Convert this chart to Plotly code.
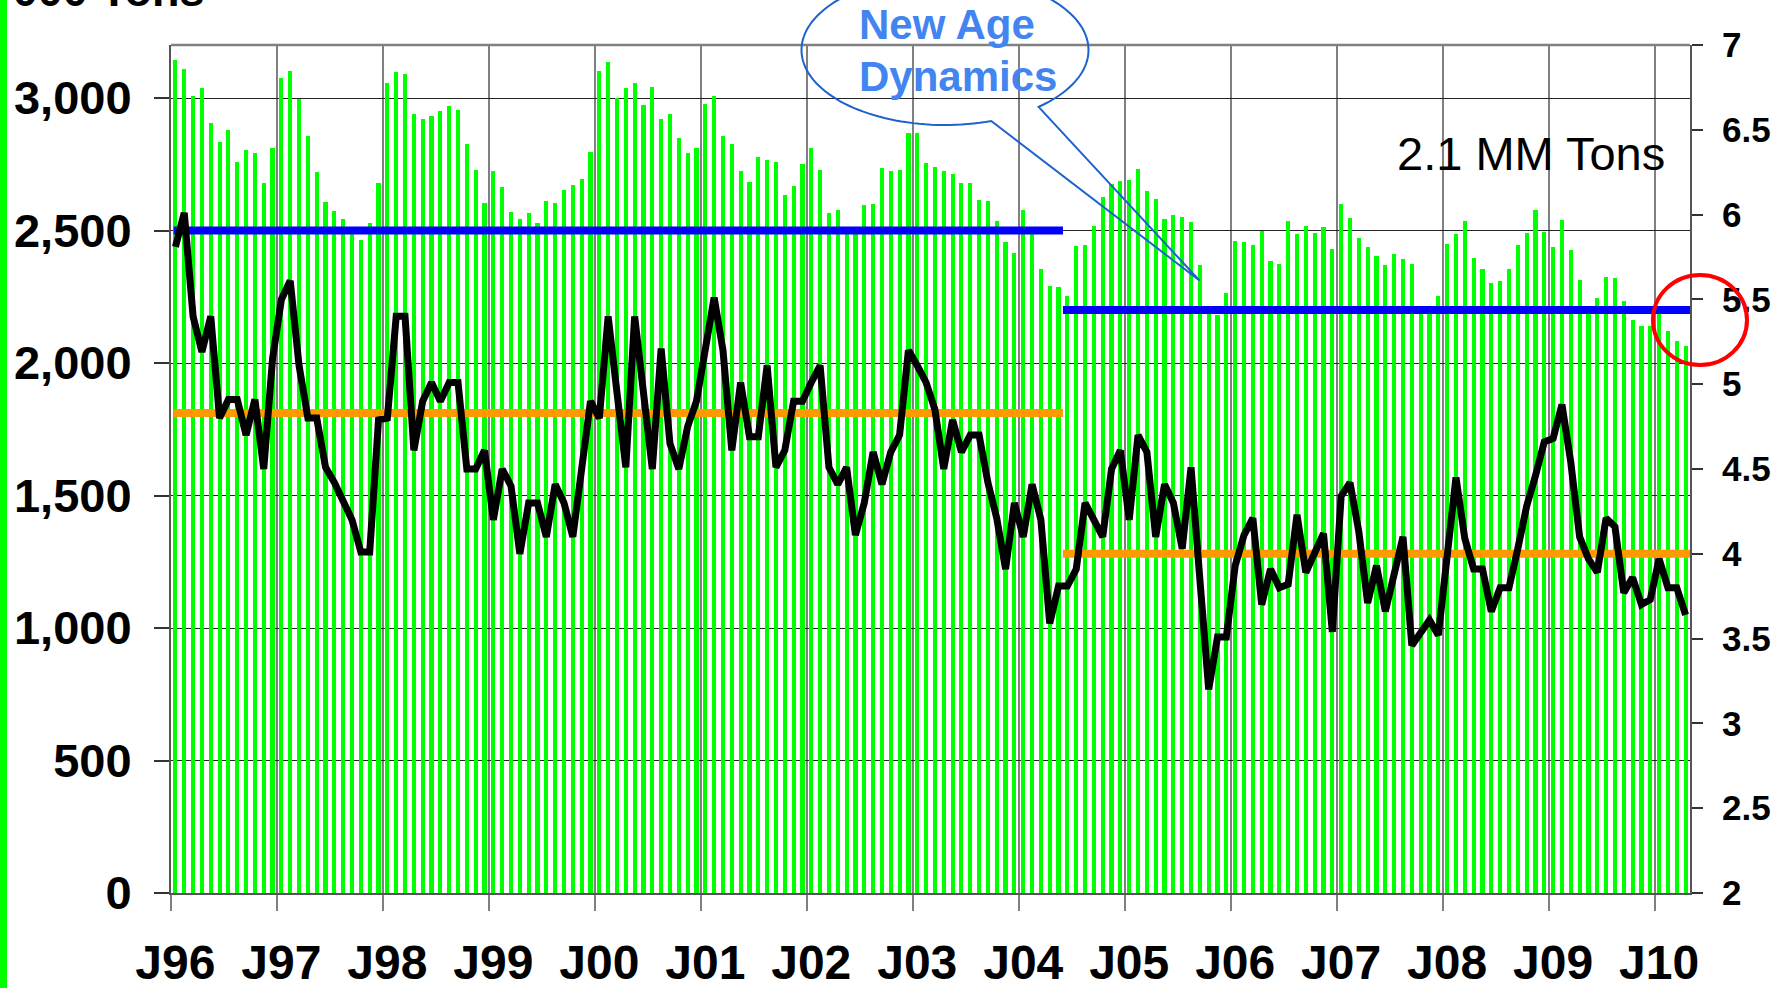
import plotly.graph_objects as go
import numpy as np

# ---------------- data ----------------
years = ["J96", "J97", "J98", "J99", "J00", "J01", "J02", "J03", "J04", "J05",
         "J06", "J07", "J08", "J09", "J10"]

inventory_kt = [
    3144, 3110, 3008, 3038, 2906, 2834, 2879, 2758, 2802, 2792, 2679, 2811,   # 1996
    3076, 3102, 2997, 2856, 2720, 2608, 2573, 2543, 2490, 2465, 2528, 2679,   # 1997
    3057, 3098, 3091, 2940, 2921, 2932, 2951, 2970, 2955, 2826, 2728, 2605,   # 1998
    2724, 2664, 2569, 2543, 2566, 2528, 2611, 2603, 2652, 2671, 2694, 2796,   # 1999
    3102, 3136, 3000, 3038, 3057, 2974, 3042, 2921, 2940, 2849, 2792, 2811,   # 2000
    2977, 3008, 2856, 2826, 2724, 2683, 2777, 2766, 2758, 2634, 2668, 2751,   # 2001
    2811, 2728, 2566, 2577, 2490, 2495, 2596, 2600, 2736, 2724, 2728, 2868,   # 2002
    2868, 2754, 2739, 2724, 2713, 2679, 2679, 2615, 2611, 2535, 2456, 2414,   # 2003
    2577, 2490, 2354, 2290, 2286, 2252, 2441, 2445, 2516, 2626, 2675, 2686,   # 2004
    2690, 2732, 2649, 2618, 2543, 2558, 2550, 2531, 2369, 2190, 2180, 2263,   # 2005
    2460, 2456, 2445, 2500, 2384, 2373, 2535, 2486, 2516, 2490, 2513, 2429,   # 2006
    2600, 2547, 2471, 2437, 2403, 2369, 2410, 2392, 2373, 2200, 2210, 2252,   # 2007
    2449, 2486, 2535, 2396, 2354, 2301, 2309, 2354, 2445, 2490, 2577, 2494,   # 2008
    2437, 2539, 2426, 2312, 2214, 2244, 2324, 2320, 2233, 2161, 2139, 2139,   # 2009
    2217, 2120, 2082, 2063,                                                   # 2010
]

supply_ratio = [
    5.81, 6.01, 5.40, 5.19, 5.40, 4.80, 4.91, 4.91, 4.70, 4.91, 4.50, 5.15,   # 1996
    5.50, 5.61, 5.11, 4.80, 4.80, 4.51, 4.42, 4.30, 4.20, 4.01, 4.01, 4.79,   # 1997
    4.80, 5.40, 5.40, 4.61, 4.90, 5.01, 4.90, 5.01, 5.01, 4.50, 4.50, 4.61,   # 1998
    4.20, 4.50, 4.40, 4.00, 4.30, 4.30, 4.10, 4.41, 4.30, 4.10, 4.51, 4.90,   # 1999
    4.80, 5.40, 4.95, 4.51, 5.40, 4.97, 4.50, 5.21, 4.65, 4.50, 4.75, 4.90,   # 2000
    5.20, 5.51, 5.20, 4.61, 5.01, 4.69, 4.69, 5.11, 4.51, 4.61, 4.90, 4.90,   # 2001
    5.01, 5.11, 4.51, 4.41, 4.51, 4.11, 4.30, 4.60, 4.41, 4.60, 4.70, 5.20,   # 2002
    5.11, 5.01, 4.85, 4.50, 4.79, 4.60, 4.70, 4.70, 4.42, 4.21, 3.91, 4.30,   # 2003
    4.10, 4.41, 4.20, 3.59, 3.81, 3.81, 3.91, 4.30, 4.20, 4.10, 4.50, 4.61,   # 2004
    4.20, 4.70, 4.60, 4.10, 4.41, 4.30, 4.03, 4.51, 3.85, 3.20, 3.51, 3.51,   # 2005
    3.93, 4.11, 4.21, 3.70, 3.91, 3.80, 3.82, 4.23, 3.89, 4.01, 4.12, 3.54,   # 2006
    4.34, 4.42, 4.13, 3.71, 3.93, 3.66, 3.87, 4.10, 3.46, 3.54, 3.61, 3.52,   # 2007
    4.03, 4.45, 4.09, 3.91, 3.91, 3.66, 3.80, 3.80, 4.03, 4.28, 4.46, 4.66,   # 2008
    4.68, 4.88, 4.54, 4.10, 3.97, 3.89, 4.21, 4.16, 3.77, 3.86, 3.70, 3.73,   # 2009
    3.97, 3.80, 3.80, 3.64,                                                   # 2010
]

# average levels for the two periods (months from Jan-96)
period_bounds = [0.3, 101, 172]
inventory_avg = [2500, 2200]
ratio_avg = [4.83, 4.00]

left_ticks = [0, 500, 1000, 1500, 2000, 2500, 3000]
right_ticks = [2, 2.5, 3, 3.5, 4, 4.5, 5, 5.5, 6, 6.5, 7]
right_ticktext = ["2", "2.5", "3", "3.5", "4", "4.5", "5", "5.5", "6", "6.5", "7"]

# ---------------- layout geometry ----------------
W, H = 1787, 988
L, R, T, B = 171, 97, 45, 95
PW, PH = W - L - R, H - T - B


def px(xp):
    return (xp - L) / PW


def py(yp):
    return 1 - (yp - T) / PH


FONT = "Liberation Sans, Arial, sans-serif"
n = len(inventory_kt)
xs = [i + 0.5 for i in range(n)]

fig = go.Figure()

fig.add_trace(go.Bar(
    x=xs, y=inventory_kt, width=0.47,
    marker=dict(color="#00FF00", line=dict(width=0)),
    yaxis="y", showlegend=False, hoverinfo="skip",
))

# blue average inventory lines
for k in range(2):
    fig.add_trace(go.Scatter(
        x=[period_bounds[k], period_bounds[k + 1]],
        y=[inventory_avg[k], inventory_avg[k]],
        mode="lines", line=dict(color="#0000FF", width=8),
        yaxis="y", showlegend=False, hoverinfo="skip",
    ))

# orange average ratio lines
for k in range(2):
    fig.add_trace(go.Scatter(
        x=[period_bounds[k], period_bounds[k + 1]],
        y=[ratio_avg[k], ratio_avg[k]],
        mode="lines", line=dict(color="#FF9900", width=8),
        yaxis="y2", showlegend=False, hoverinfo="skip",
    ))

fig.add_trace(go.Scatter(
    x=xs, y=supply_ratio, mode="lines",
    line=dict(color="#000000", width=7),
    yaxis="y2", showlegend=False, hoverinfo="skip",
))

# ---------------- shapes ----------------
shapes = []
# green strip at the very left edge
shapes.append(dict(type="rect", xref="paper", yref="paper",
                   x0=px(0), x1=px(7), y0=-0.3, y1=1.3,
                   fillcolor="#00FF00", line=dict(width=0), layer="above"))
# top border of the plot
shapes.append(dict(type="line", xref="paper", yref="paper",
                   x0=0, x1=1, y0=1, y1=1,
                   line=dict(color="#808080", width=2.5), layer="above"))
# red circle
shapes.append(dict(type="circle", xref="paper", yref="paper",
                   x0=px(1653), x1=px(1747), y0=py(365), y1=py(275),
                   line=dict(color="#FF0000", width=4), layer="above"))

# callout ellipse with tail
cx, cy, rx, ry = 945, 50, 143.5, 75
t2 = np.degrees(np.arctan2((107.3 - cy) / ry, (1039.3 - cx) / rx))
t1 = np.degrees(np.arctan2((121.7 - cy) / ry, (991.7 - cx) / rx))
ts = np.linspace(t2, t1 - 360, 140)
pts = [(cx + rx * np.cos(np.radians(t)), cy + ry * np.sin(np.radians(t))) for t in ts]
pts.append((1199.5, 280.5))
path = "M " + " L ".join(f"{px(a):.5f},{py(b):.5f}" for a, b in pts) + " Z"
shapes.append(dict(type="path", xref="paper", yref="paper", path=path,
                   line=dict(color="#1E62CC", width=2), fillcolor="rgba(0,0,0,0)",
                   layer="above"))

# ---------------- annotations ----------------
annotations = [
    dict(text="New Age", xref="paper", yref="paper", x=px(857), y=py(39.3 - 0.3465 * 42),
         xanchor="left", yanchor="middle", showarrow=False,
         font=dict(family=FONT, size=42, color="#4285F0", weight="bold")),
    dict(text="Dynamics", xref="paper", yref="paper", x=px(857), y=py(90.7 - 0.3465 * 42),
         xanchor="left", yanchor="middle", showarrow=False,
         font=dict(family=FONT, size=42, color="#4285F0", weight="bold")),
    dict(text="2.1 MM Tons", xref="paper", yref="paper", x=px(1531), y=py(170 - 0.3465 * 47),
         xanchor="center", yanchor="middle", showarrow=False,
         font=dict(family=FONT, size=47, color="#000000")),
    dict(text="'000 Tons", xref="paper", yref="paper", x=px(206), y=py(6 - 0.3465 * 45),
         xanchor="right", yanchor="middle", showarrow=False,
         font=dict(family=FONT, size=45, color="#000000", weight="bold")),
]

fig.update_layout(
    width=W, height=H,
    margin=dict(l=L, r=R, t=T, b=B, pad=0, autoexpand=False),
    paper_bgcolor="white", plot_bgcolor="white",
    showlegend=False,
    bargap=0,
    shapes=shapes,
    annotations=annotations,
    xaxis=dict(
        range=[0, n], showgrid=False, zeroline=False, automargin=False,
        tickmode="array", tickvals=[12 * k + 0.5 for k in range(len(years))],
        ticktext=years, ticks="",
        tickfont=dict(family=FONT, size=48, color="#000000", weight="bold"),
        ticklabelstandoff=26,
        showline=True, linecolor="#555555", linewidth=2,
        minor=dict(tick0=0, dtick=12, ticks="outside", ticklen=16,
                   tickcolor="#808080", tickwidth=1.5,
                   showgrid=True, gridcolor="#808080", gridwidth=1.5),
    ),
    yaxis=dict(
        range=[0, 3200], tickmode="array", tickvals=left_ticks, automargin=False,
        tickformat=",d", ticks="outside", ticklen=15, tickcolor="#333333", tickwidth=1.5,
        showgrid=True, gridcolor="#222222", gridwidth=1.3, zeroline=False,
        showline=True, linecolor="#555555", linewidth=2,
        tickfont=dict(family=FONT, size=47, color="#000000", weight="bold"),
        ticklabelstandoff=13,
    ),
    yaxis2=dict(
        range=[2, 7], overlaying="y", side="right", anchor="x", automargin=False,
        tickmode="array", tickvals=right_ticks, ticktext=right_ticktext,
        ticks="outside", ticklen=11, tickcolor="#333333", tickwidth=1.5,
        showgrid=False, zeroline=False,
        showline=True, linecolor="#555555", linewidth=2,
        tickfont=dict(family=FONT, size=35, color="#000000", weight="bold"),
        ticklabelstandoff=12,
    ),
)

fig.write_html(
    "out.html",
    config={"displayModeBar": False},
    post_script="document.body.style.margin='0';document.body.style.overflow='hidden';",
)
